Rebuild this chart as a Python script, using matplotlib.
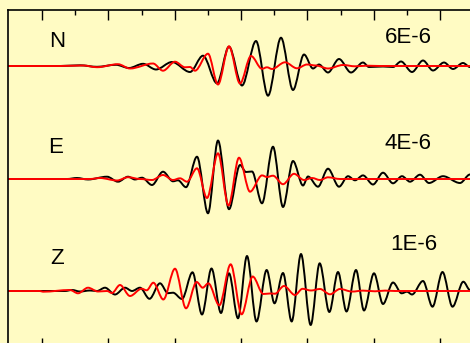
import matplotlib
matplotlib.use("Agg")
import matplotlib.pyplot as plt
from matplotlib.path import Path
from matplotlib.patches import PathPatch
import numpy as np

plt.rcParams['font.family'] = ['Liberation Sans', 'DejaVu Sans']

# picked extrema of each trace: time (s) and relative amplitude
n_obs_t = [2.4, 18, 24, 29.1, 34.8, 38.7, 42.9, 46.8, 51.6, 57, 60.9, 65.1, 68.7, 72.6, 76.8, 80.4, 84.3, 87.9,
           91.2, 93.9, 95.7, 98.4, 101.7, 105.3, 108.9, 110.7, 114.9, 117.9, 120.3, 123.6, 126.9, 129.9, 133.2,
           135.9, 138.9, 141, 142.5]
n_obs_a = [0, 0, 0.7, -0.8, 1.2, -2, 2.2, -3.5, 4, -6, 10.3, -17.3, 19.3, -19.5, 25, -29.7, 28.3, -24,
           11.5, -2.5, 1.5, -6.5, 7, -6.5, 3.5, -1, -0.5, -1, 4.5, -6, 5.5, -4.5, 3.5,
           -3, 3, -1, -3]
n_syn_t = [2.4, 18, 24.9, 29.1, 35.4, 39, 45.9, 48.9, 52.5, 55.5, 57, 58.5, 62.4, 65.4, 68.7, 72, 75.3, 78.6,
           80.1, 81.6, 85.5, 89.1, 92.1, 94.8, 98.4, 102.9, 106.5, 110.1, 114, 144]
n_syn_a = [0, 0, 0.5, -1.2, 1.8, -2.5, 2.5, -4.7, 4.3, -1.3, -1, -4.7, 12.3, -18.5, 19.7, -17.5, 10, -2.8,
           -1.3, -3, 3.7, -2.3, 1.5, 0.5, -2.5, 1, -0.3, 0.3, 0, 0]

e_obs_t = [2.4, 20.1, 23.1, 26.4, 32.1, 35.4, 38.4, 40.5, 42.6, 45.6, 48.9, 51.9, 53.4, 55.8, 59.1, 62.4,
           65.4, 68.7, 72, 73.8, 75.6, 78.6, 81.9, 84.9, 87.9, 90.9, 92.4, 95.4, 98.4, 101.7, 104.4, 106.5,
           108.9, 111.9, 114.9, 117.9, 120.6, 123, 126, 128.7, 132.9, 138, 141, 143.4]
e_obs_a = [0, 0, 1, -0.5, 2.3, -2.7, 2.3, -0.5, 1.3, -6, 7.3, -2.3, -1.3, -8.2, 22.3, -34.3,
           38.5, -30.2, 14, 7, 7.5, -24.3, 32.3, -28, 18, -6.5, 2.5, -7.7, 10.3, -7.7, 2.8, -1.3,
           3.6, -5.5, 6.3, -4.3, 2.8, -2.7, 4.3, -4, 2.8, -4, 4.5, 0]
e_syn_t = [2.4, 27, 30, 35.1, 38.4, 42, 45.6, 48.9, 51.9, 54, 56.1, 59.1, 62.1, 65.4, 68.55, 71.7, 75,
           78.6, 80.1, 81.9, 84.9, 88.2, 91.2, 93.6, 96, 98.4, 102, 144]
e_syn_a = [0, 0, 1, -1.5, 1.8, 0, -1, 4, -1, 0.7, -2.7, 10.7, -19, 25.7, -26.5, 21.3, -12.7,
           3.6, 2, 3.3, -5.2, 5.2, -1, 1, -1, 1.7, 0, 0]

z_obs_t = [2.4, 19.5, 21.6, 24, 27, 29.1, 31.5, 34.5, 37.5, 39.6, 42, 44.85, 48, 50.4, 51.9, 54.6, 57.75,
           60.6, 63.45, 66.3, 68.7, 71.4, 74.1, 76.95, 80, 82.35, 84.9, 87.5, 90.3, 93.2, 95.9, 98.8,
           101.4, 103.95, 106.8, 109.2, 112.2, 114.9, 117.9, 120.5, 122.1, 123.6, 126.9, 129.75, 132.75,
           135.75, 139, 141, 143.4]
z_obs_a = [0, 0, 1, -0.5, 0.5, 0, 3.3, -3.5, 3.3, 0, 3.3, -7.8, 7.7, -2.2, -1.7, -8, 18.7,
           -23.5, 22.5, -22, 17.7, -27.3, 35, -30.5, 21, -12.3, 18, -30.5, 37, -34, 27.7, -21,
           19, -20.5, 21, -19.5, 17.7, -13, 8.5, -2.3, -0.7, -3.5, 10, -15.7, 19,
           -15.7, 9.3, 1, -6]
z_syn_t = [2.4, 12, 12.9, 21, 23.4, 26.4, 29.4, 32.1, 33.6, 36, 39, 42.5, 44, 46, 49, 52.5, 55.8, 59,
           60.8, 62.5, 65.8, 69.2, 72.5, 75.8, 79, 81, 82.5, 85.2, 88.5, 90.75, 93.3, 96, 99, 102,
           105.6, 108.9, 112.5, 115.5, 118.5, 144]
z_syn_a = [0, 0, -0.7, 1, -2.3, 3.3, -0.5, 0, -2, 6, -5, 2.3, 0.7, 8.3, -8.5, 22.3, -17.3, 9,
           3.3, 7.7, -14.3, 26.7, -23.3, 14.5, -3, -2.5, -2.7, 5, -4, 2.2, 0.5, 2, -3.3, 2,
           -0.6, 0.4, -0.3, 0.4, 0, 0]

components = ["N", "E", "Z"]
scale_labels = ["6E-6", "4E-6", "1E-6"]

observed = [(n_obs_t, n_obs_a), (e_obs_t, e_obs_a), (z_obs_t, z_obs_a)]
synthetic = [(n_syn_t, n_syn_a), (e_syn_t, e_syn_a), (z_syn_t, z_syn_a)]


def trace_path(t, y):
    # smooth line through the picked extrema (flat tangent at each pick)
    verts = [(t[0], y[0])]
    codes = [Path.MOVETO]
    for k in range(1, len(t)):
        d = (t[k] - t[k-1]) / 3.0
        verts += [(t[k-1] + d, y[k-1]), (t[k] - d, y[k]), (t[k], y[k])]
        codes += [Path.CURVE4] * 3
    return Path(verts, codes)


bg = '#fffbc3'
fig = plt.figure(figsize=(4.7, 3.43), dpi=100, facecolor=bg)
ax = fig.add_axes([8/470, -5/343, 472/470, 338/343], facecolor=bg)

offsets = [66, 179, 291]
for i in range(3):
    for (t, a), col in ((observed[i], 'black'), (synthetic[i], 'red')):
        p = trace_path(t, offsets[i] - np.array(a))
        ax.add_patch(PathPatch(p, fill=False, edgecolor=col, lw=1.4, capstyle='round', joinstyle='round'))

label_x = [17.1, 16.8, 17.1]
label_y = [47, 153, 264]
scale_x = [122.4, 122.4, 124.0]
scale_y = [43, 149, 250]
for i in range(3):
    ax.text(label_x[i], label_y[i], components[i], fontsize=16, ha='center', va='baseline')
    ax.text(scale_x[i], scale_y[i], scale_labels[i], fontsize=16, ha='center', va='baseline')

ax.set_xlim(2.4, 144)
ax.set_ylim(348, 10)
ax.set_xticks(np.arange(12.6, 144, 19.9))
ax.set_xticks(np.arange(22.55, 144, 19.9), minor=True)
ax.set_yticks([])
ax.tick_params(axis='x', which='both', direction='in', top=True, bottom=True,
               labeltop=False, labelbottom=False, width=1.0)
ax.tick_params(axis='x', which='major', length=7.2)
ax.tick_params(axis='x', which='minor', length=3.6)
for s in ax.spines.values():
    s.set_linewidth(1.2)

fig.savefig("out.png", dpi=100, facecolor=bg)
